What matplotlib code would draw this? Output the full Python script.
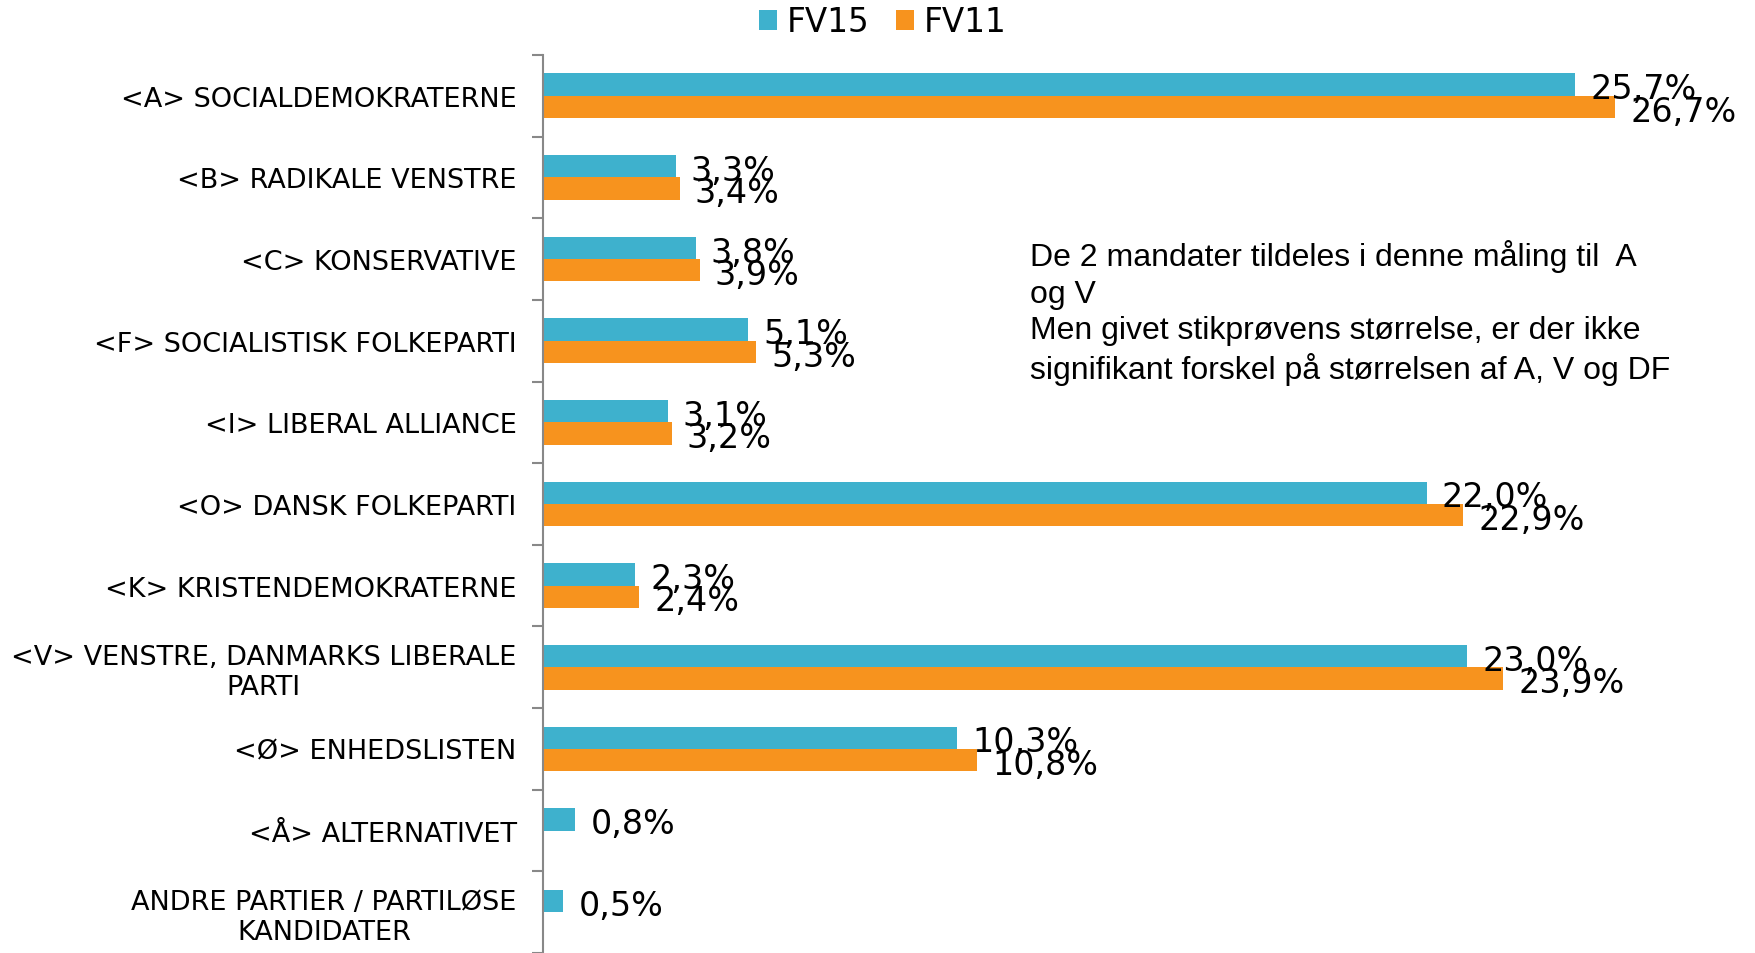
import numpy as np
import matplotlib
matplotlib.use('Agg')
from matplotlib import pyplot as plt

partier = ['<A> SOCIALDEMOKRATERNE', '<B> RADIKALE VENSTRE', '<C> KONSERVATIVE',
           '<F> SOCIALISTISK FOLKEPARTI', '<I> LIBERAL ALLIANCE', '<O> DANSK FOLKEPARTI',
           '<K> KRISTENDEMOKRATERNE', '<V> VENSTRE, DANMARKS LIBERALE\nPARTI',
           '<Ø> ENHEDSLISTEN', '<Å> ALTERNATIVET', 'ANDRE PARTIER / PARTILØSE\nKANDIDATER']
fv15 = [25.7, 3.3, 3.8, 5.1, 3.1, 22.0, 2.3, 23.0, 10.3, 0.8, 0.5]
fv11 = [26.7, 3.4, 3.9, 5.3, 3.2, 22.9, 2.4, 23.9, 10.8, np.nan, np.nan]

teal = '#3EB1CD'
orange = '#F7931E'

fig = plt.figure(figsize=(17.55, 9.54), dpi=100)
ax = fig.add_axes([0.3094, 0.0, 0.6866, 0.9413])

y = np.arange(len(partier))
h = 0.274
b1 = ax.barh(y - h/2, fv15, height=h, color=teal, label='FV15')
b2 = ax.barh(y + h/2, np.nan_to_num(fv11), height=h, color=orange, label='FV11')

def fmt(v):
    return ('%.1f%%' % v).replace('.', ',')

# value labels, a little below the bar centre like the original
for yy, serie in [(y - h/2, fv15), (y + h/2, fv11)]:
    for yi, v in zip(yy, serie):
        if np.isnan(v):
            continue
        ax.annotate(fmt(v), xy=(v, yi), xytext=(11, -3), textcoords='offset points',
                    va='center', ha='left', fontsize=24, color='black')

ax.set_xlim(0, 30)
ax.set_ylim(len(partier) - 0.5, -0.5)

ax.set_yticks(y)
ax.set_yticklabels(partier, fontsize=19.5, multialignment='center', linespacing=1.2)
ax.set_yticks(np.arange(-0.5, len(partier)), minor=True)
ax.tick_params(axis='y', which='major', length=0, pad=19)
ax.tick_params(axis='y', which='minor', length=8, color='#888888', width=1.5)
ax.set_xticks([])

for s in ['top', 'right', 'bottom']:
    ax.spines[s].set_visible(False)
ax.spines['left'].set_color('#888888')
ax.spines['left'].set_linewidth(1.5)

fig.legend(handles=[b1, b2], labels=['FV15', 'FV11'], loc='center',
           bbox_to_anchor=(0.503, 0.976), ncol=2, frameon=False, fontsize=23.5,
           handlelength=0.55, handleheight=0.55, handletextpad=0.3, columnspacing=0.8)

fig.text(0.587, 0.748,
         'De 2 mandater tildeles i denne måling til  A\nog V\n'
         'Men givet stikprøvens størrelse, er der ikke\n'
         'signifikant forskel på størrelsen af A, V og DF',
         fontsize=23, family='Liberation Sans', va='top', ha='left', linespacing=1.27)

fig.savefig('out.png', dpi=100)
